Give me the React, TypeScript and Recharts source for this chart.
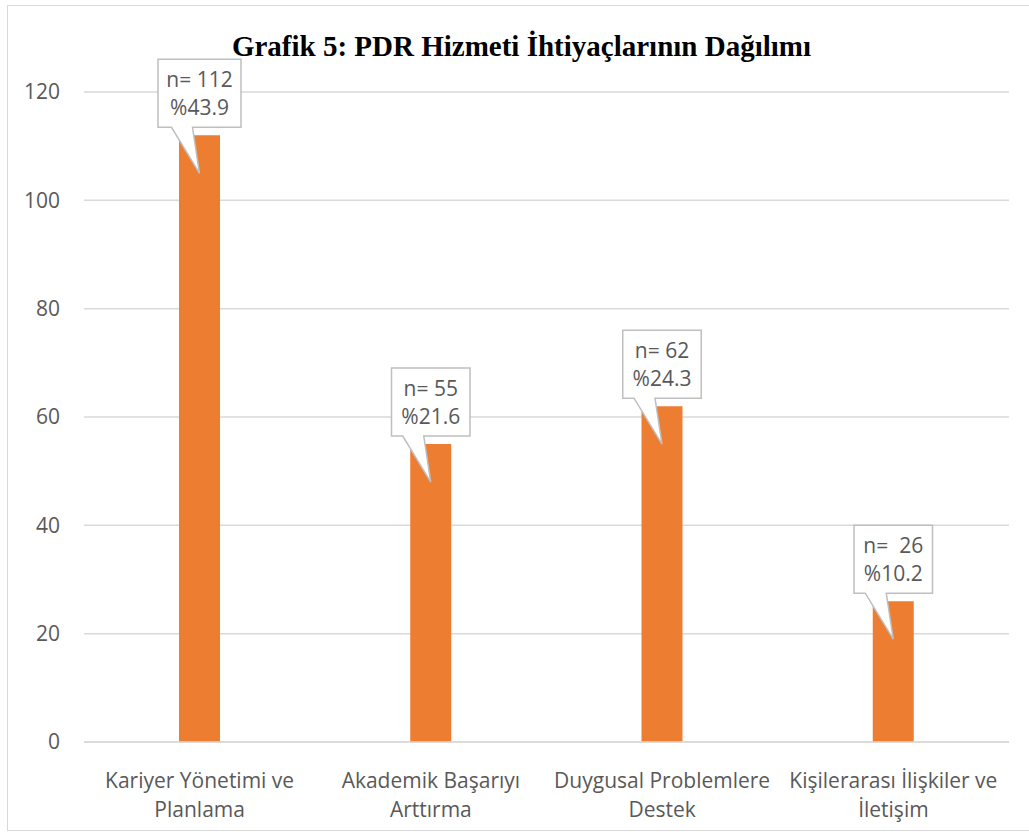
import { BarChart, Bar, XAxis, YAxis, CartesianGrid, LabelList } from "recharts";

const categories = [
  ["Kariyer Yönetimi ve", "Planlama"],
  ["Akademik Başarıyı", "Arttırma"],
  ["Duygusal Problemlere", "Destek"],
  ["Kişilerarası İlişkiler ve", "İletişim"],
];
const counts = [112, 55, 62, 26];
const countLabels = ["n= 112", "n= 55", "n= 62", "n=  26"];
const percentLabels = ["%43.9", "%21.6", "%24.3", "%10.2"];
const yTicks = [0, 20, 40, 60, 80, 100, 120];

const data = categories.map((c, i) => ({
  name: c.join(" "),
  lines: c,
  value: counts[i],
  top: countLabels[i],
  bottom: percentLabels[i],
}));

const FONT = "'Open Sans', Lato, sans-serif";
const GRAY = "#595959";
const FS = 21;

// rough text width for the callout box
const textW = (s: string) =>
  s.split("").reduce((w, ch) => w + (ch === " " ? 3 : ch === "." ? 5.5 : ch === "%" ? 17 : 12), 0);

function Callout(props: any) {
  const { x, y, width, index } = props;
  const d = data[index];
  const cx = x + width / 2;
  const w = Math.max(textW(d.top), textW(d.bottom)) + 20;
  const h = 68;
  const bottom = y - 8;
  const top = bottom - h;
  const left = cx - w / 2;
  const right = cx + w / 2;
  const tipY = y + 38;
  const path = `M${left},${top} L${right},${top} L${right},${bottom} L${cx - 7},${bottom} L${cx},${tipY} L${cx - 28},${bottom} L${left},${bottom} Z`;
  return (
    <g>
      <path d={path} fill="#fff" stroke="#bfbfbf" strokeWidth={1.5} />
      <text
        x={cx}
        y={top + 28}
        textAnchor="middle"
        fontFamily={FONT}
        fontSize={FS}
        fill={GRAY}
        style={{ whiteSpace: "pre" }}
      >
        {d.top}
      </text>
      <text x={cx} y={top + 56} textAnchor="middle" fontFamily={FONT} fontSize={FS} fill={GRAY}>
        {d.bottom}
      </text>
    </g>
  );
}

function CategoryTick(props: any) {
  const { x, y, index } = props;
  const lines = data[index]?.lines ?? [];
  return (
    <g>
      {lines.map((l: string, i: number) => (
        <text
          key={i}
          x={x}
          y={y + 38 + i * 29}
          textAnchor="middle"
          fontFamily={FONT}
          fontSize={FS}
          fill={GRAY}
        >
          {l}
        </text>
      ))}
    </g>
  );
}

export default function App() {
  return (
    <div style={{ position: "absolute", left: 0, top: 0, width: 1029, height: 834, background: "#fff" }}>
      <div
        style={{
          position: "absolute",
          left: 7,
          top: 5,
          width: 1029,
          height: 826,
          border: "1.5px solid #d9d9d9",
          boxSizing: "border-box",
        }}
      />
      <div
        style={{
          position: "absolute",
          left: 0,
          width: 1029,
          top: 28,
          lineHeight: "36px",
          textAlign: "center",
          fontFamily: "'Liberation Serif', 'Times New Roman', serif",
          fontWeight: "bold",
          fontSize: 29,
          color: "#000",
          paddingLeft: 14,
          boxSizing: "border-box",
        }}
      >
        Grafik 5: PDR Hizmeti İhtiyaçlarının Dağılımı
      </div>
      <BarChart
        width={1029}
        height={834}
        data={data}
        margin={{ top: 92, right: 20, left: 0, bottom: 12 }}
        barCategoryGap={95}
        style={{ position: "absolute", left: 0, top: 0 }}
      >
        <CartesianGrid vertical={false} stroke="#d9d9d9" strokeWidth={1.5} />
        <XAxis
          dataKey="name"
          height={80}
          tickLine={false}
          axisLine={{ stroke: "#d9d9d9", strokeWidth: 1.5 }}
          tick={<CategoryTick />}
          interval={0}
        />
        <YAxis
          width={84}
          domain={[0, 120]}
          ticks={yTicks}
          axisLine={false}
          tickLine={false}
          tickSize={0}
          tickMargin={24}
          tick={{ fontFamily: FONT, fontSize: FS, fill: GRAY }}
        />
        <Bar dataKey="value" fill="#ed7d31" isAnimationActive={false}>
          <LabelList dataKey="value" content={<Callout />} />
        </Bar>
      </BarChart>
    </div>
  );
}
